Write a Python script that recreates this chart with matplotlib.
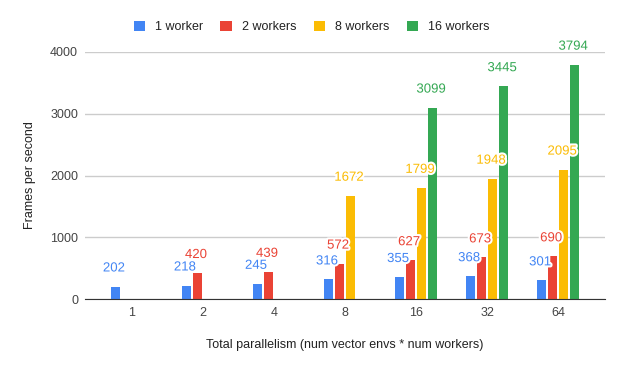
import matplotlib.pyplot as plt
import matplotlib.patheffects as pe
import numpy as np

plt.rcParams['font.family'] = ['Liberation Sans', 'DejaVu Sans']

categories = ["1", "2", "4", "8", "16", "32", "64"]
series_names = ["1 worker", "2 workers", "8 workers", "16 workers"]
one_worker = [202, 218, 245, 316, 355, 368, 301]
two_workers = [None, 420, 439, 572, 627, 673, 690]
eight_workers = [None, None, None, 1672, 1799, 1948, 2095]
sixteen_workers = [None, None, None, None, 3099, 3445, 3794]
colors = ["#4285F4", "#EA4335", "#FBBC04", "#34A853"]

all_series = [one_worker, two_workers, eight_workers, sixteen_workers]

fig = plt.figure(figsize=(6.23, 3.71), dpi=100)
ax = fig.add_axes([85 / 623, 72 / 371, 520 / 623, 247 / 371])

x = np.arange(len(categories))
pitch = 0.155
bar_w = 0.135

for i, (name, vals, c) in enumerate(zip(series_names, all_series, colors)):
    xs = x + (i - 1.5) * pitch
    heights = [np.nan if v is None else v for v in vals]
    ax.bar(xs, heights, bar_w, color=c, label=name, zorder=3)
    for xi, v in zip(xs, vals):
        if v is None:
            continue
        ax.annotate(str(v), (xi, v), xytext=(-1, 13), textcoords='offset points',
                    ha='center', va='center', color=c, fontsize=9.5, zorder=5,
                    annotation_clip=False,
                    path_effects=[pe.withStroke(linewidth=3, foreground='white')])

ax.set_xlim(-0.66, 6.66)
ax.set_ylim(0, 4000)
ax.set_yticks([0, 1000, 2000, 3000, 4000])
ax.set_xticks(x)
ax.set_xticklabels(categories)
ax.grid(axis='y', color='#cccccc', linewidth=1, zorder=0)
for s in ['left', 'right', 'top']:
    ax.spines[s].set_visible(False)
ax.spines['bottom'].set_color('#333333')
ax.spines['bottom'].set_zorder(4)
ax.tick_params(axis='both', length=0, labelsize=9, colors='#444444')
ax.tick_params(axis='y', pad=5)
ax.tick_params(axis='x', pad=6)

ax.set_ylabel('Frames per second', fontsize=9, color='#222222', labelpad=10)
ax.set_xlabel('Total parallelism (num vector envs * num workers)', fontsize=9,
              color='#222222', labelpad=14)

fig.legend(loc='upper center', bbox_to_anchor=(0.5, 0.975), ncol=4, frameon=False,
           fontsize=9, handlelength=0.9, handleheight=0.9, handletextpad=0.8,
           columnspacing=1.4, labelcolor='#222222')

plt.savefig('out.png', dpi=100)
